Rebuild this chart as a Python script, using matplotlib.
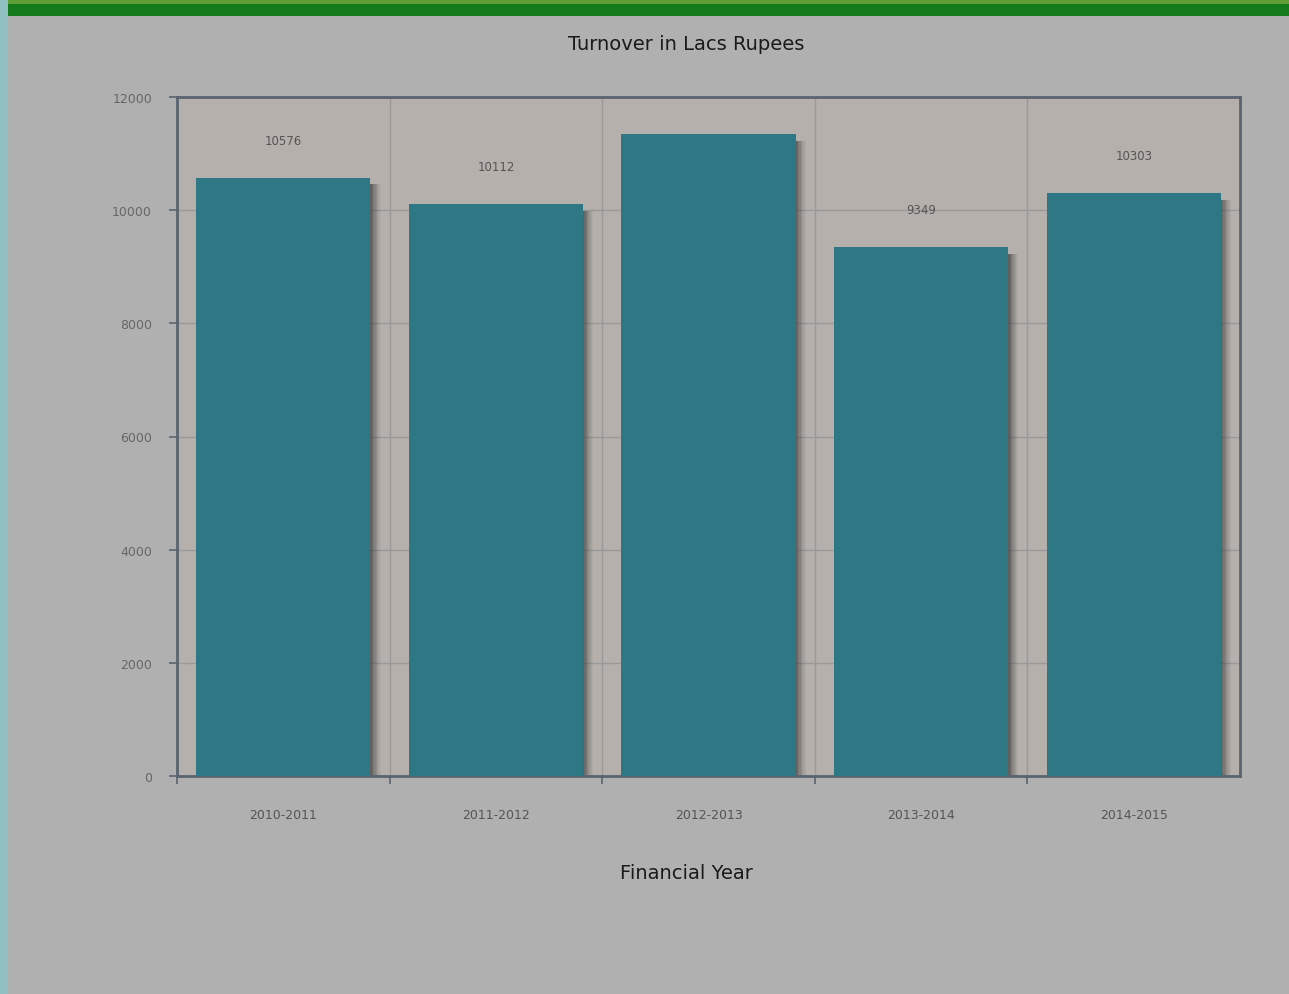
import numpy as np
import matplotlib.pyplot as plt
from matplotlib.patches import Rectangle

# Turnover data (Lacs Rupees)
years = ["2010-2011", "2011-2012", "2012-2013", "2013-2014", "2014-2015"]
turnover = [10576, 10112, 11350, 9349, 10303]
shown_labels = ["10576", "10112", "", "9349", "10303"]
y_ticks = [0, 2000, 4000, 6000, 8000, 10000, 12000]

W, H = 1289, 995
fig = plt.figure(figsize=(W / 100, H / 100), dpi=100)
fig.patch.set_facecolor("#b0b0b0")

# page decorations: teal strip at left, green band at top
fig.add_artist(Rectangle((0, 0), 8 / W, 1, transform=fig.transFigure,
                         facecolor="#8fbfc1", edgecolor="none", zorder=0))
fig.add_artist(Rectangle((8 / W, 1 - 17 / H), 1, 17 / H, transform=fig.transFigure,
                         facecolor="#157a1b", edgecolor="none", zorder=0))
fig.add_artist(Rectangle((8 / W, 1 - 5 / H), 1, 5 / H, transform=fig.transFigure,
                         facecolor="#5e9e35", edgecolor="none", zorder=0))

left, right, top, bottom = 177, 1240, 98, 777
ax = fig.add_axes([left / W, 1 - bottom / H, (right - left) / W, (bottom - top) / H])
ax.set_facecolor("#b5b0ac")

x = np.arange(len(years))
bar_w = 0.82

# soft shadow on the right side of each bar
for k, a in enumerate([0.7, 0.6, 0.5, 0.4, 0.3, 0.2, 0.12, 0.06]):
    ax.bar(x + bar_w / 2 + 0.006 * k + 0.003, np.array(turnover) - 120, width=0.006,
           bottom=0, color="#3e3e3e", alpha=a, zorder=2, linewidth=0)

ax.bar(x, turnover, width=bar_w, color="#2e7785", zorder=3, linewidth=0)

for xi, v, lab in zip(x, turnover, shown_labels):
    if lab:
        ax.text(xi, v + 660, lab, ha="center", va="center", fontsize=8.5,
                color="#555555", zorder=4)

ax.set_xlim(-0.5, len(years) - 0.5)
ax.set_ylim(0, 12000)
ax.set_yticks(y_ticks)
ax.set_yticklabels([str(t) for t in y_ticks], fontsize=9, color="#666666")
ax.set_xticks(x - 0.5, minor=False)
ax.set_xticklabels([])
ax.set_xticks(x, minor=True)
ax.set_xticklabels(years, minor=True, fontsize=9, color="#555555")
ax.tick_params(axis="x", which="minor", length=0, pad=23)
ax.tick_params(axis="x", which="major", length=6, width=1.2, color="#5a6470")
ax.tick_params(axis="y", length=6, width=1.2, color="#5a6470", pad=12)

ax.grid(axis="y", color="#999999", linewidth=1, zorder=1)
for b in x[1:] - 0.5:
    ax.axvline(b, color="#999999", linewidth=1, zorder=1)
ax.set_axisbelow(True)

for s in ax.spines.values():
    s.set_color("#5a6470")
    s.set_linewidth(2)

fig.text(686 / W, 1 - 44 / H, "Turnover in Lacs Rupees",
         ha="center", va="center", fontsize=14, color="#1a1a1a")
fig.text(686 / W, 1 - 874 / H, "Financial Year",
         ha="center", va="center", fontsize=14, color="#1a1a1a")

plt.savefig("out.png", dpi=100, facecolor=fig.get_facecolor())
